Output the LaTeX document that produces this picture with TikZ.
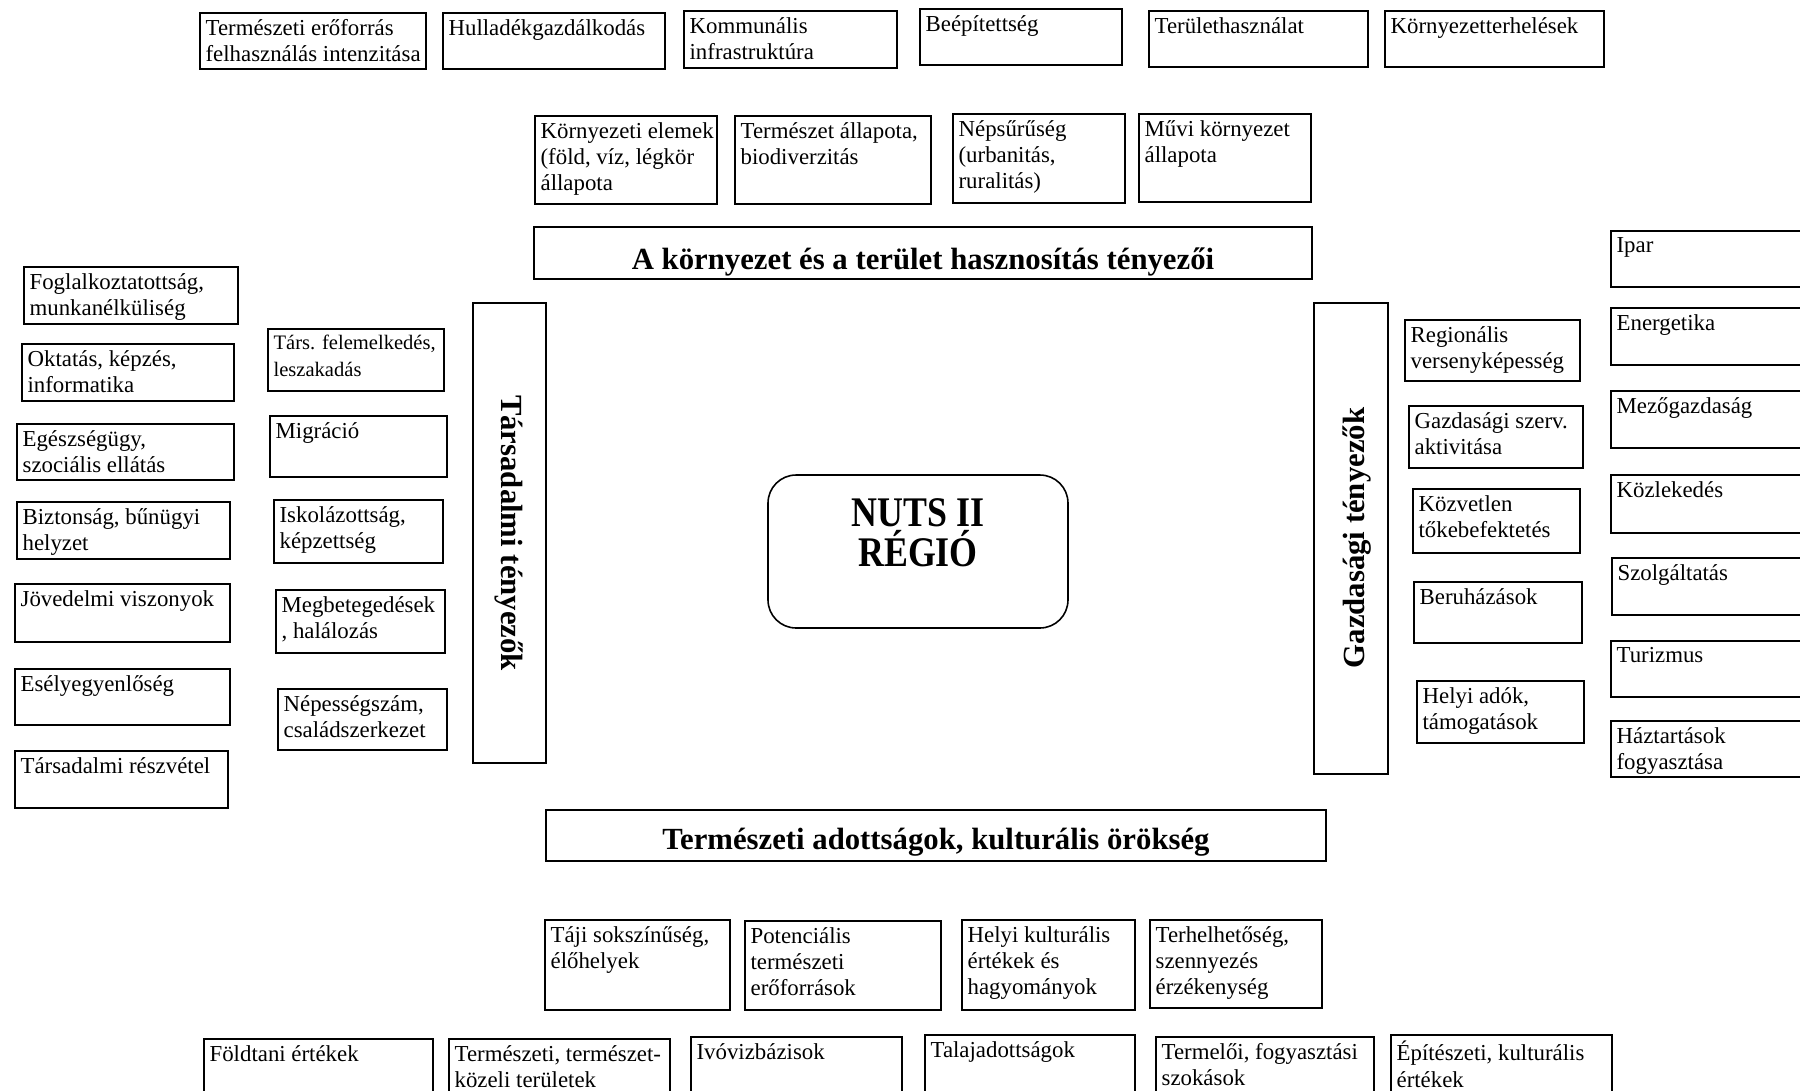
\documentclass[tikz,border=0pt]{standalone}
\usepackage{fontspec}
\setmainfont{Liberation Serif}
\usepackage{tikz}
\usetikzlibrary{positioning}
\tikzset{
    frame/.style={draw=black, line width=0.9pt},
    lbl/.style={anchor=north west, inner sep=0pt, align=left, xshift=3pt, yshift=-3.4pt,
        font=\fontsize{13}{15}\selectfont},
    heading/.style={anchor=base, inner sep=0pt, font=\bfseries\fontsize{17.5}{20}\selectfont},
    sideheading/.style={anchor=center, inner sep=0pt, font=\bfseries\fontsize{17.5}{20}\selectfont},
}

\begin{document}
\begin{tikzpicture}[x=0.02cm, y=-0.02cm]
\useasboundingbox (0,0) rectangle (1800,1090);
\clip (0,0) rectangle (1800,1090);

% top rows
\draw[frame] (200,13) rectangle (426,69);
\node[lbl] (erof) at (200,13) {Természeti erőforrás\\felhasználás intenzitása};
\draw[frame] (443,13) rectangle (665,69);
\node[lbl] (hull) at (443,13) {Hulladékgazdálkodás};
\draw[frame] (684,11) rectangle (897,68);
\node[lbl] (komm) at (684,11) {Kommunális\\infrastruktúra};
\draw[frame] (920,9) rectangle (1122,65);
\node[lbl] (beep) at (920,9) {Beépítettség};
\draw[frame] (1149,11) rectangle (1368,67);
\node[lbl] (terh) at (1149,11) {Területhasználat};
\draw[frame] (1385,11) rectangle (1604,67);
\node[lbl] (kornyt) at (1385,11) {Környezetterhelések};

\draw[frame] (535,116) rectangle (717,204);
\node[lbl] (elem) at (535,116) {Környezeti elemek\\(föld, víz, légkör\\állapota};
\draw[frame] (735,116) rectangle (931,204);
\node[lbl] (term) at (735,116) {Természet állapota,\\biodiverzitás};
\draw[frame] (953,114) rectangle (1125,203);
\node[lbl] (neps) at (953,114) {Népsűrűség\\(urbanitás,\\ruralitás)};
\draw[frame] (1139,114) rectangle (1311,202);
\node[lbl] (muvi) at (1139,114) {Művi környezet\\állapota};

\begin{scope}
\clip (534,227) rectangle (1312,279);
\node[heading] (kornyh) at (923,269) {A környezet és a terület hasznosítás tényezői};
\end{scope}
\draw[frame] (534,227) rectangle (1312,279);

% left side
\draw[frame] (24,267) rectangle (238,324);
\node[lbl] (fogl) at (24,267) {Foglalkoztatottság,\\munkanélküliség};
\draw[frame] (22,344) rectangle (234,401);
\node[lbl] (okt) at (22,344) {Oktatás, képzés,\\informatika};
\draw[frame] (17,424) rectangle (234,480);
\node[lbl] (egesz) at (17,424) {Egészségügy,\\szociális ellátás};
\draw[frame] (17,502) rectangle (230,559);
\node[lbl] (bizt) at (17,502) {Biztonság, bűnügyi\\helyzet};
\draw[frame] (15,584) rectangle (230,642);
\node[lbl] (jov) at (15,584) {Jövedelmi viszonyok};
\draw[frame] (15,669) rectangle (230,725);
\node[lbl] (esely) at (15,669) {Esélyegyenlőség};
\draw[frame] (15,751) rectangle (228,808);
\node[lbl] (resz) at (15,751) {Társadalmi részvétel};

\draw[frame] (268,329) rectangle (444,391);
\node[lbl, font=\fontsize{11.7}{15}\selectfont] (felem) at (268,329) {Társ. felemelkedés,\\leszakadás};
\draw[frame] (270,416) rectangle (447,477);
\node[lbl] (migr) at (270,416) {Migráció};
\draw[frame] (274,500) rectangle (443,563);
\node[lbl] (isk) at (274,500) {Iskolázottság,\\képzettség};
\draw[frame] (276,590) rectangle (445,653);
\node[lbl] (megb) at (276,590) {Megbetegedések\\, halálozás};
\draw[frame] (278,689) rectangle (447,750);
\node[lbl] (nepsz) at (278,689) {Népességszám,\\családszerkezet};

\draw[frame] (473,303) rectangle (546,763);
\node[sideheading, rotate=-90] (tars) at (509,533) {Társadalmi tényezők};

% centre
\draw[frame, rounded corners=16pt] (768,475) rectangle (1068,628);
\node[anchor=north, inner sep=0pt, align=center, xscale=0.85,
    font=\bfseries\fontsize{24}{23}\selectfont] (nuts) at (918,498) {NUTS II\\RÉGIÓ};

% right side
\draw[frame] (1314,303) rectangle (1388,774);
\node[sideheading, rotate=90] (gazd) at (1357,538) {Gazdasági tényezők};

\draw[frame] (1405,320) rectangle (1580,381);
\node[lbl] (reg) at (1405,320) {Regionális\\versenyképesség};
\draw[frame] (1409,406) rectangle (1583,468);
\node[lbl] (szerv) at (1409,406) {Gazdasági szerv.\\aktivitása};
\draw[frame] (1413,489) rectangle (1580,553);
\node[lbl] (tokeb) at (1413,489) {Közvetlen\\tőkebefektetés};
\draw[frame] (1414,582) rectangle (1582,643);
\node[lbl] (beruh) at (1414,582) {Beruházások};
\draw[frame] (1417,681) rectangle (1584,743);
\node[lbl] (adok) at (1417,681) {Helyi adók,\\támogatások};

\draw[frame] (1611,231) rectangle (1830,287);
\node[lbl] (ipar) at (1611,231) {Ipar};
\draw[frame] (1611,308) rectangle (1830,365);
\node[lbl] (energ) at (1611,308) {Energetika};
\draw[frame] (1611,391) rectangle (1830,448);
\node[lbl] (mezo) at (1611,391) {Mezőgazdaság};
\draw[frame] (1611,475) rectangle (1830,533);
\node[lbl] (kozl) at (1611,475) {Közlekedés};
\draw[frame] (1612,558) rectangle (1830,615);
\node[lbl] (szolg) at (1612,558) {Szolgáltatás};
\draw[frame] (1611,641) rectangle (1830,697);
\node[lbl] (tur) at (1611,641) {Turizmus};
\draw[frame] (1611,721) rectangle (1830,777);
\node[lbl] (hazt) at (1611,721) {Háztartások\\fogyasztása};

% bottom rows
\begin{scope}
\clip (546,810) rectangle (1326,861);
\node[heading] (termh) at (936,849) {Természeti adottságok, kulturális örökség};
\end{scope}
\draw[frame] (546,810) rectangle (1326,861);

\draw[frame] (545,920) rectangle (730,1010);
\node[lbl] (taji) at (545,920) {Táji sokszínűség,\\élőhelyek};
\draw[frame] (745,921) rectangle (941,1010);
\node[lbl] (pot) at (745,921) {Potenciális\\természeti\\erőforrások};
\draw[frame] (962,920) rectangle (1135,1010);
\node[lbl] (kult) at (962,920) {Helyi kulturális\\értékek és\\hagyományok};
\draw[frame] (1150,920) rectangle (1322,1008);
\node[lbl] (terhel) at (1150,920) {Terhelhetőség,\\szennyezés\\érzékenység};

\draw[frame] (204,1039) rectangle (433,1110);
\node[lbl] (foldt) at (204,1039) {Földtani értékek};
\draw[frame] (449,1039) rectangle (670,1110);
\node[lbl] (kozeli) at (449,1039) {Természeti, természet-\\közeli területek};
\draw[frame] (691,1037) rectangle (902,1110);
\node[lbl] (ivov) at (691,1037) {Ivóvizbázisok};
\draw[frame] (925,1035) rectangle (1135,1110);
\node[lbl] (talaj) at (925,1035) {Talajadottságok};
\draw[frame] (1156,1037) rectangle (1374,1110);
\node[lbl] (szok) at (1156,1037) {Termelői, fogyasztási\\szokások};
\draw[frame] (1391,1035) rectangle (1612,1110);
\node[lbl] (epit) at (1391,1035) {Építészeti, kulturális\\értékek};
\end{tikzpicture}
\end{document}
